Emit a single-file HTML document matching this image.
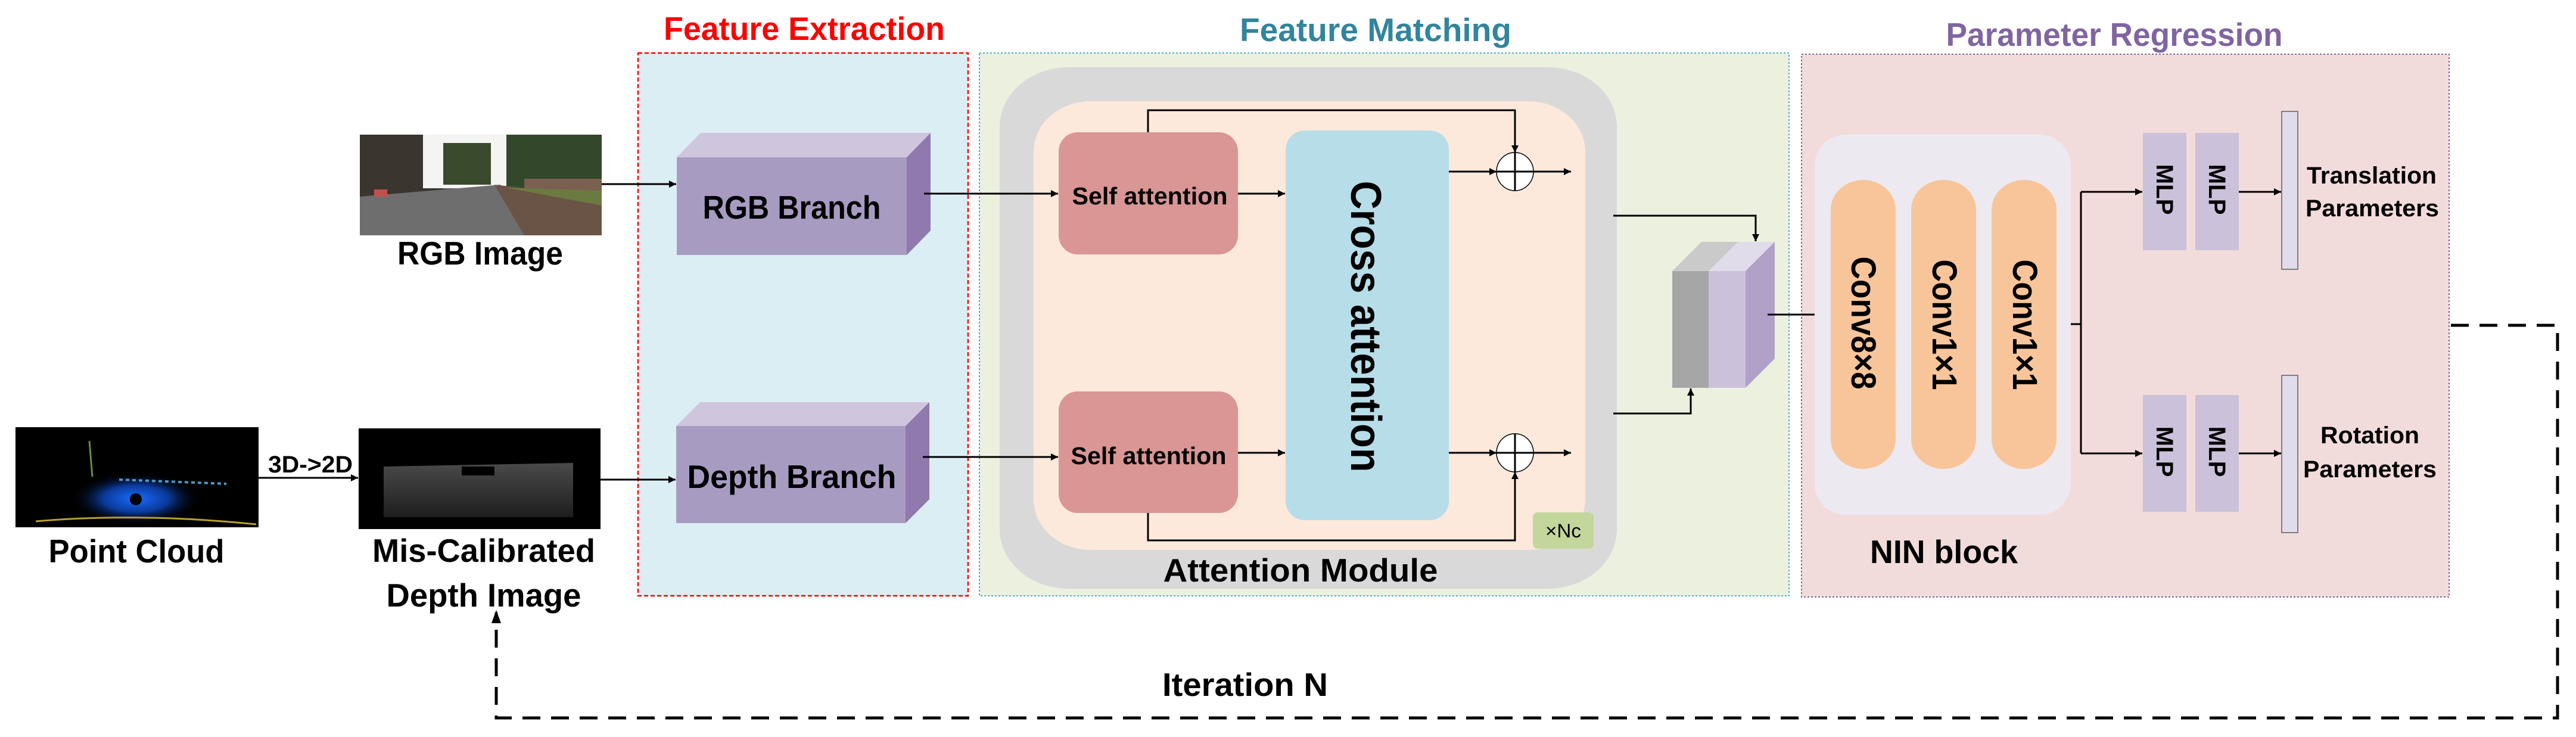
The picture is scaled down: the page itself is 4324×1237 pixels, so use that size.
<!DOCTYPE html>
<html><head><meta charset="utf-8"><style>html,body{margin:0;padding:0;background:#fff}svg{display:block}</style></head>
<body>
<svg width="4324" height="1237" viewBox="0 0 4324 1237" xmlns="http://www.w3.org/2000/svg" font-family="'Liberation Sans', sans-serif" font-weight="bold">
<defs>
<marker id="ah" viewBox="0 0 10 10" refX="10" refY="5" markerWidth="12" markerHeight="12" markerUnits="userSpaceOnUse" orient="auto"><path d="M0,0 L10,5 L0,10 z" fill="#000"/></marker>
<marker id="ah2" viewBox="0 0 10 10" refX="10" refY="5" markerWidth="16" markerHeight="16" markerUnits="userSpaceOnUse" orient="auto"><path d="M0,0 L10,5 L0,10 z" fill="#000"/></marker>
<radialGradient id="glow" cx="0.5" cy="0.5" r="0.5"><stop offset="0" stop-color="#1a6cff"/><stop offset="0.5" stop-color="#0a3a9a"/><stop offset="1" stop-color="#000" stop-opacity="0"/></radialGradient>
<linearGradient id="dg" x1="0" y1="0" x2="0" y2="1"><stop offset="0" stop-color="#4a4a4a"/><stop offset="1" stop-color="#1e1e1e"/></linearGradient>
</defs>

<!-- section titles -->
<text x="1350" y="67" font-size="55" fill="#ff0000" text-anchor="middle" textLength="472" lengthAdjust="spacingAndGlyphs">Feature Extraction</text>
<text x="2309" y="69" font-size="55" fill="#31859c" text-anchor="middle" textLength="456" lengthAdjust="spacingAndGlyphs">Feature Matching</text>
<text x="3549" y="77" font-size="55" fill="#8064a2" text-anchor="middle" textLength="565" lengthAdjust="spacingAndGlyphs">Parameter Regression</text>

<!-- section boxes -->
<rect x="1071" y="89" width="554" height="911" fill="#dbeef4" stroke="#ff0000" stroke-width="2.5" stroke-dasharray="7,4"/>
<rect x="1644" y="89" width="1359" height="911" fill="#ebf1de" stroke="#4bacc6" stroke-width="2" stroke-dasharray="3,3"/>
<rect x="3024" y="91" width="1087" height="911" fill="#f2dcdb" stroke="#8064a2" stroke-width="2" stroke-dasharray="3,3"/>

<!-- RGB image -->
<g>
<rect x="604" y="226" width="406" height="169" fill="#555"/>
<rect x="604" y="226" width="140" height="130" fill="#3b3530"/>
<rect x="710" y="226" width="140" height="90" fill="#f4f4f2"/>
<rect x="744" y="240" width="80" height="70" fill="#3a4a2c"/>
<rect x="850" y="226" width="160" height="100" fill="#33482a"/>
<rect x="880" y="300" width="130" height="30" fill="#7a6050"/>
<polygon points="604,395 604,330 840,310 900,395" fill="#6e6e6e"/>
<polygon points="830,310 1010,330 1010,395 880,395" fill="#6a5446"/>
<polygon points="850,315 1010,320 1010,345" fill="#6b7a40"/>
<rect x="628" y="318" width="22" height="12" fill="#c0504d"/>
</g>
<text x="806" y="444" font-size="55" text-anchor="middle" textLength="278" lengthAdjust="spacingAndGlyphs">RGB Image</text>

<!-- point cloud -->
<rect x="26" y="717" width="408" height="168" fill="#000"/>
<ellipse cx="228" cy="837" rx="110" ry="45" fill="url(#glow)"/>
<circle cx="228" cy="838" r="10" fill="#000"/>
<path d="M60,875 Q230,860 430,880" stroke="#b8a030" stroke-width="3" fill="none"/>
<path d="M200,805 L380,812" stroke="#4a9ac0" stroke-width="4" fill="none" stroke-dasharray="6,5"/>
<path d="M150,740 L155,800" stroke="#6a8a40" stroke-width="3"/>
<text x="229" y="944" font-size="55" text-anchor="middle" textLength="295" lengthAdjust="spacingAndGlyphs">Point Cloud</text>

<!-- 3D->2D -->
<text x="521" y="793" font-size="40" text-anchor="middle" textLength="142" lengthAdjust="spacingAndGlyphs">3D-&gt;2D</text>
<line x1="434" y1="802" x2="601" y2="802" stroke="#000" stroke-width="3" marker-end="url(#ah)"/>

<!-- depth image -->
<rect x="602" y="719" width="406" height="169" fill="#000"/>
<path d="M644,783 L962,777 L962,868 L644,868 z" fill="url(#dg)"/>
<path d="M775,783 L830,783 L830,798 L775,798 z" fill="#000"/>
<text x="812" y="943" font-size="55" text-anchor="middle" textLength="374" lengthAdjust="spacingAndGlyphs">Mis-Calibrated</text>
<text x="812" y="1018" font-size="55" text-anchor="middle" textLength="327" lengthAdjust="spacingAndGlyphs">Depth Image</text>

<!-- arrows to branches -->
<line x1="1010" y1="309" x2="1135" y2="309" stroke="#000" stroke-width="3" marker-end="url(#ah)"/>
<line x1="1008" y1="805" x2="1134" y2="805" stroke="#000" stroke-width="3" marker-end="url(#ah)"/>

<!-- RGB branch cuboid -->
<polygon points="1136,264 1176,223 1562,223 1522,264" fill="#cfc6dd"/>
<polygon points="1522,264 1562,223 1562,387 1522,428" fill="#8f79ad"/>
<rect x="1136" y="264" width="386" height="164" fill="#a89bc2"/>
<text x="1329" y="367" font-size="55" text-anchor="middle" textLength="299" lengthAdjust="spacingAndGlyphs">RGB Branch</text>
<!-- Depth branch cuboid -->
<polygon points="1135,715 1175,675 1560,675 1520,715" fill="#cfc6dd"/>
<polygon points="1520,715 1560,675 1560,838 1520,878" fill="#8f79ad"/>
<rect x="1135" y="715" width="385" height="163" fill="#a89bc2"/>
<text x="1329" y="819" font-size="55" text-anchor="middle" textLength="351" lengthAdjust="spacingAndGlyphs">Depth Branch</text>

<!-- attention module -->
<rect x="1678" y="113" width="1036" height="875" rx="115" ry="100" fill="#d9d9d9"/>
<rect x="1735" y="170" width="926" height="753" rx="95" ry="85" fill="#fce9db"/>

<rect x="1777" y="222" width="301" height="205" rx="32" fill="#d99694"/>
<rect x="1777" y="657" width="301" height="204" rx="32" fill="#d99694"/>
<text x="1930" y="343" font-size="41" text-anchor="middle" textLength="261" lengthAdjust="spacingAndGlyphs">Self attention</text>
<text x="1928" y="779" font-size="41" text-anchor="middle" textLength="261" lengthAdjust="spacingAndGlyphs">Self attention</text>

<rect x="2158" y="219" width="274" height="654" rx="32" fill="#b7dde8"/>
<text transform="translate(2268,548) rotate(90)" font-size="72" text-anchor="middle" textLength="489" lengthAdjust="spacingAndGlyphs">Cross attention</text>

<!-- inputs -->
<line x1="1551" y1="325" x2="1776" y2="325" stroke="#000" stroke-width="3" marker-end="url(#ah)"/>
<line x1="1549" y1="767" x2="1776" y2="767" stroke="#000" stroke-width="3" marker-end="url(#ah)"/>
<line x1="2078" y1="325" x2="2157" y2="325" stroke="#000" stroke-width="3" marker-end="url(#ah)"/>
<line x1="2078" y1="760" x2="2157" y2="760" stroke="#000" stroke-width="3" marker-end="url(#ah)"/>

<!-- plus circles -->
<ellipse cx="2543" cy="288" rx="31" ry="32" fill="#fff" stroke="#000" stroke-width="1.5"/>
<ellipse cx="2543" cy="760" rx="31" ry="32" fill="#fff" stroke="#000" stroke-width="1.5"/>
<line x1="2543" y1="256" x2="2543" y2="320" stroke="#000" stroke-width="3"/>
<line x1="2543" y1="728" x2="2543" y2="792" stroke="#000" stroke-width="3"/>
<line x1="2432" y1="288" x2="2512" y2="288" stroke="#000" stroke-width="3" marker-end="url(#ah)"/>
<line x1="2512" y1="288" x2="2637" y2="288" stroke="#000" stroke-width="3" marker-end="url(#ah)"/>
<line x1="2432" y1="760" x2="2512" y2="760" stroke="#000" stroke-width="3" marker-end="url(#ah)"/>
<line x1="2512" y1="760" x2="2637" y2="760" stroke="#000" stroke-width="3" marker-end="url(#ah)"/>
<polyline points="1927,222 1927,185 2543,185 2543,256" fill="none" stroke="#000" stroke-width="3" marker-end="url(#ah)"/>
<polyline points="1927,861 1927,907 2543,907 2543,792" fill="none" stroke="#000" stroke-width="3" marker-end="url(#ah)"/>

<rect x="2573" y="860" width="102" height="61" rx="8" fill="#c3d69b"/>
<text x="2624" y="902" font-size="32" font-weight="normal" text-anchor="middle" textLength="60" lengthAdjust="spacingAndGlyphs">×Nc</text>
<text x="2183" y="976" font-size="55" text-anchor="middle" textLength="461" lengthAdjust="spacingAndGlyphs">Attention Module</text>

<!-- outputs to cuboid -->
<polyline points="2708,362 2947,362 2947,405" fill="none" stroke="#000" stroke-width="3" marker-end="url(#ah)"/>
<polyline points="2708,694 2838,694 2838,652" fill="none" stroke="#000" stroke-width="3" marker-end="url(#ah)"/>

<!-- concat cuboid -->
<polygon points="2807,455 2856,406 2930,406 2868,455" fill="#cacaca"/>
<polygon points="2868,455 2917,406 2979,406 2930,455" fill="#e0dcea"/>
<polygon points="2930,455 2979,406 2979,602 2930,651" fill="#b1a0c7"/>
<rect x="2807" y="455" width="61" height="196" fill="#a6a6a6"/>
<rect x="2868" y="455" width="62" height="196" fill="#ccc1da"/>
<line x1="2967" y1="528" x2="3077" y2="528" stroke="#000" stroke-width="3" marker-end="url(#ah)"/>

<!-- NIN block -->
<rect x="3046" y="226" width="430" height="638" rx="52" fill="#ece9f1"/>
<rect x="3073" y="302" width="109" height="485" rx="54.5" ry="50" fill="#f8c59a"/>
<rect x="3208" y="302" width="109" height="485" rx="54.5" ry="50" fill="#f8c59a"/>
<rect x="3343" y="302" width="109" height="485" rx="54.5" ry="50" fill="#f8c59a"/>
<text transform="translate(3108,542) rotate(90)" font-size="58" text-anchor="middle" textLength="223" lengthAdjust="spacingAndGlyphs">Conv8×8</text>
<text transform="translate(3244,545) rotate(90)" font-size="58" text-anchor="middle" textLength="219" lengthAdjust="spacingAndGlyphs">Conv1×1</text>
<text transform="translate(3379,545) rotate(90)" font-size="58" text-anchor="middle" textLength="219" lengthAdjust="spacingAndGlyphs">Conv1×1</text>
<text x="3263" y="945" font-size="55" text-anchor="middle" textLength="248" lengthAdjust="spacingAndGlyphs">NIN block</text>

<!-- split -->
<line x1="3476" y1="544" x2="3493" y2="544" stroke="#000" stroke-width="3"/>
<line x1="3493" y1="322" x2="3493" y2="761" stroke="#000" stroke-width="3"/>
<line x1="3493" y1="322" x2="3596" y2="322" stroke="#000" stroke-width="3" marker-end="url(#ah)"/>
<line x1="3493" y1="761" x2="3596" y2="761" stroke="#000" stroke-width="3" marker-end="url(#ah)"/>

<!-- MLPs -->
<rect x="3597" y="223" width="73" height="197" fill="#ccc1da"/>
<rect x="3685" y="223" width="73" height="197" fill="#ccc1da"/>
<rect x="3597" y="663" width="73" height="196" fill="#ccc1da"/>
<rect x="3685" y="663" width="73" height="196" fill="#ccc1da"/>
<text transform="translate(3620,318) rotate(90)" font-size="40" text-anchor="middle" textLength="85" lengthAdjust="spacingAndGlyphs">MLP</text>
<text transform="translate(3708,318) rotate(90)" font-size="40" text-anchor="middle" textLength="85" lengthAdjust="spacingAndGlyphs">MLP</text>
<text transform="translate(3620,758) rotate(90)" font-size="40" text-anchor="middle" textLength="85" lengthAdjust="spacingAndGlyphs">MLP</text>
<text transform="translate(3708,758) rotate(90)" font-size="40" text-anchor="middle" textLength="85" lengthAdjust="spacingAndGlyphs">MLP</text>
<line x1="3758" y1="322" x2="3829" y2="322" stroke="#000" stroke-width="3" marker-end="url(#ah)"/>
<line x1="3758" y1="761" x2="3829" y2="761" stroke="#000" stroke-width="3" marker-end="url(#ah)"/>

<rect x="3830" y="187" width="27" height="265" fill="#e0dcea" stroke="#7f7f7f" stroke-width="2"/>
<rect x="3830" y="630" width="27" height="264" fill="#e0dcea" stroke="#7f7f7f" stroke-width="2"/>
<text x="3981" y="308" font-size="40" text-anchor="middle" textLength="218" lengthAdjust="spacingAndGlyphs">Translation</text>
<text x="3982" y="363" font-size="40" text-anchor="middle" textLength="224" lengthAdjust="spacingAndGlyphs">Parameters</text>
<text x="3978" y="744" font-size="40" text-anchor="middle" textLength="166" lengthAdjust="spacingAndGlyphs">Rotation</text>
<text x="3978" y="801" font-size="40" text-anchor="middle" textLength="224" lengthAdjust="spacingAndGlyphs">Parameters</text>

<!-- feedback loop -->
<polyline points="4114,546 4293,546 4293,1205 833,1205 833,1028" fill="none" stroke="#000" stroke-width="5" stroke-dasharray="30,18"/>
<polygon points="833,1024 825,1046 841,1046" fill="#000"/>
<text x="2090" y="1168" font-size="55" text-anchor="middle" textLength="278" lengthAdjust="spacingAndGlyphs">Iteration N</text>
</svg>
</body></html>
